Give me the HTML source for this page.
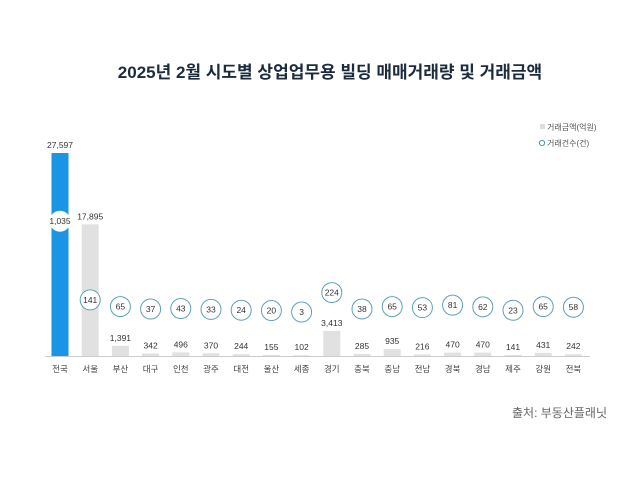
<!DOCTYPE html>
<html><head><meta charset="utf-8"><style>
body{margin:0;background:#fff;width:640px;height:473px;overflow:hidden;font-family:"Liberation Sans","Noto Sans CJK KR",sans-serif}
</style></head><body>
<svg id="c" width="640" height="473" xmlns="http://www.w3.org/2000/svg" style="font-family:'Liberation Sans','Noto Sans CJK KR',sans-serif">
<text x="330" y="78" text-anchor="middle" font-size="17" font-weight="bold" fill="#1c2b3d">2025년 2월 시도별 상업업무용 빌딩 매매거래량 및 거래금액</text>
<g>
<rect x="540" y="124" width="5" height="5" fill="#ddd"/>
<text x="547" y="130" font-size="8" fill="#555">거래금액(억원)</text>
<circle cx="542" cy="143" r="2.6" fill="none" stroke="#4a9ab8" stroke-width="1"/>
<text x="547" y="146" font-size="8" fill="#555">거래건수(건)</text>
</g>
<line x1="45" y1="356.5" x2="590" y2="356.5" stroke="#ccc" stroke-width="1"/>
<g id="marks"></g>
<text x="607" y="417" text-anchor="end" font-size="12" fill="#666">출처: 부동산플래닛</text>
</svg>
<script>
const categories=["전국","서울","부산","대구","인천","광주","대전","울산","세종","경기","충북","충남","전남","경북","경남","제주","강원","전북"];
const amounts=[27597,17895,1391,342,496,370,244,155,102,3413,285,935,216,470,470,141,431,242];
const counts=[1035,141,65,37,43,33,24,20,3,224,38,65,53,81,62,23,65,58];
const base=356;
function xPos(i){return 60+i*30.2;}
function yAmt(v){return base-v*203/27597;}
function yCnt(v){return 312.3-v*0.088;}
const g=document.getElementById('marks');
const NS="http://www.w3.org/2000/svg";
function mk(t,a){const e=document.createElementNS(NS,t);for(const k in a)e.setAttribute(k,a[k]);return e;}
categories.forEach((c,i)=>{
  const x=xPos(i);
  const top=yAmt(amounts[i]);
  const bar=mk('rect',{x:x-8.5,y:top,width:17,height:base-top,fill:i===0?'#1a95e6':'#e1e1e1'});
  
  
  g.appendChild(bar);
  const lab=mk('text',{x:x,y:Math.min(top-5,350),'text-anchor':'middle','font-size':'8.5',fill:'#333'});
  lab.textContent=amounts[i].toLocaleString('en-US');
  
  
  g.appendChild(lab);
  const cy=yCnt(counts[i]);
  const circ=mk('circle',{cx:x,cy:cy,r:10,fill:'#fff',stroke:i===0?'#fff':'#5f9fb8','stroke-width':'1'});
  
  
  g.appendChild(circ);
  const ct=mk('text',{x:x,y:cy+3,'text-anchor':'middle','font-size':'8.5',fill:'#333'});
  ct.textContent=counts[i].toLocaleString('en-US');
  
  
  g.appendChild(ct);
  const xl=mk('text',{x:x,y:372,'text-anchor':'middle','font-size':'8.5',fill:'#444'});
  xl.textContent=c;
  
  
  g.appendChild(xl);
});
</script>
</body></html>
